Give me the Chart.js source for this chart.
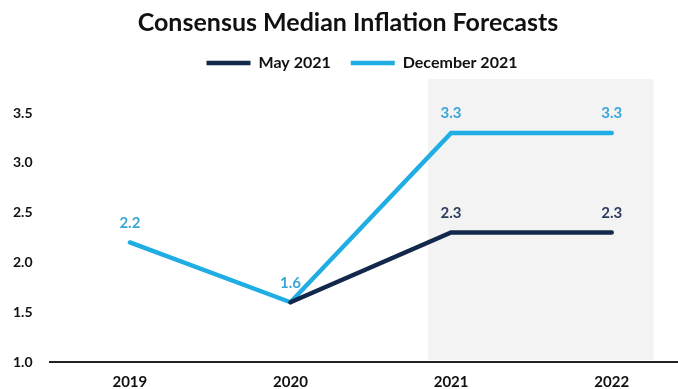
<!DOCTYPE html>
<html>
<head>
<meta charset="utf-8">
<script src="https://cdn.jsdelivr.net/npm/chart.js@4/dist/chart.umd.min.js"></script>
<style>
  html, body { margin: 0; padding: 0; background: #fff; overflow: hidden; }
  #wrap { width: 692px; height: 389px; }
</style>
</head>
<body>
<div id="wrap"><canvas id="chart"></canvas></div>
<script>
// Konsens-Median der Inflationsprognosen, zwei Erhebungen
const jahre = ['2019', '2020', '2021', '2022'];
const mai2021 = [null, 1.6, 2.3, 2.3];
const dez2021 = [2.2, 1.6, 3.3, 3.3];
// welche Punkte eine Beschriftung bekommen
const maiLabels = [false, false, true, true];
const dezLabels = [true, true, true, true];
// grau hinterlegter Prognosebereich (in Kategorie-Einheiten / y-Wert oben)
const schattenX = [1.856, 3.26];
const schattenOben = 3.84;

const FARBEN = { mai: '#13294b', dez: '#1fade4' };
const TEXT = { mai: '#2d3b5e', dez: '#3aa6d8' };
const schrift = 'Lato, "Liberation Sans", Arial, sans-serif';

// Legende: mehr Abstand nach unten, leicht nach rechts versetzt
const legendeAbstand = {
  id: 'legendeAbstand',
  beforeInit(chart) {
    const lg = chart.legend;
    const fit = lg.fit, draw = lg.draw;
    lg.fit = function () { fit.call(this); this.height += 29; };
    lg.draw = function () {
      const ctx = this.ctx;
      ctx.save();
      ctx.translate(14, -3);
      draw.call(this);
      ctx.restore();
    };
  },
};

const schatten = {
  id: 'schatten',
  beforeDatasetsDraw(chart) {
    const { ctx, scales: { x, y } } = chart;
    const x0 = x.getPixelForValue(schattenX[0]);
    const x1 = x.getPixelForValue(schattenX[1]);
    const y0 = y.getPixelForValue(schattenOben);
    const y1 = y.getPixelForValue(1.0) - 2;
    ctx.save();
    ctx.fillStyle = '#f3f3f4';
    ctx.fillRect(x0, y0, x1 - x0, y1 - y0);
    ctx.restore();
  },
};

const werteLabels = {
  id: 'werteLabels',
  afterDatasetsDraw(chart) {
    const { ctx } = chart;
    ctx.save();
    ctx.font = 'bold 15px ' + schrift;
    ctx.textAlign = 'center';
    ctx.textBaseline = 'bottom';
    chart.data.datasets.forEach((ds, i) => {
      const meta = chart.getDatasetMeta(i);
      meta.data.forEach((pt, j) => {
        if (ds.data[j] == null || !ds.zeigen[j]) return;
        ctx.fillStyle = ds.textFarbe;
        ctx.fillText(ds.data[j].toFixed(1), pt.x, pt.y - 12);
      });
    });
    ctx.restore();
  },
};

new Chart(document.getElementById('chart'), {
  type: 'line',
  data: {
    labels: jahre,
    datasets: [
      { label: 'May 2021', data: mai2021, borderColor: FARBEN.mai, backgroundColor: FARBEN.mai,
        borderWidth: 4.5, pointRadius: 0, borderCapStyle: 'round', zeigen: maiLabels, textFarbe: TEXT.mai },
      { label: 'December 2021', data: dez2021, borderColor: FARBEN.dez, backgroundColor: FARBEN.dez,
        borderWidth: 4.5, pointRadius: 0, borderCapStyle: 'round', zeigen: dezLabels, textFarbe: TEXT.dez },
    ],
  },
  options: {
    responsive: true,
    maintainAspectRatio: false,
    animation: false,
    layout: { padding: { left: 4, right: 0, top: 4, bottom: -5 } },
    plugins: {
      title: {
        display: true, text: 'Consensus Median Inflation Forecasts', color: '#111',
        font: { family: schrift, size: 25, weight: 'bold' }, padding: { top: 4, bottom: 0 },
      },
      legend: {
        labels: {
          color: '#111', usePointStyle: true, pointStyle: 'line', boxWidth: 44, pointStyleWidth: 44,
          font: { family: schrift, size: 16, weight: 'bold' }, padding: 20,
        },
      },
      tooltip: { enabled: false },
    },
    scales: {
      x: {
        offset: true,
        grid: { display: false },
        border: { display: true, color: '#222', width: 2 },
        ticks: { color: '#111', font: { family: schrift, size: 15, weight: 'bold' }, padding: 3 },
      },
      y: {
        min: 1.0, max: 3.5,
        grid: { display: false },
        border: { display: false },
        ticks: { stepSize: 0.5, color: '#111', padding: 9,
          font: { family: schrift, size: 14, weight: 'bold' },
          callback: (v) => v.toFixed(1) },
      },
    },
  },
  plugins: [legendeAbstand, schatten, werteLabels],
});
</script>
</body>
</html>
